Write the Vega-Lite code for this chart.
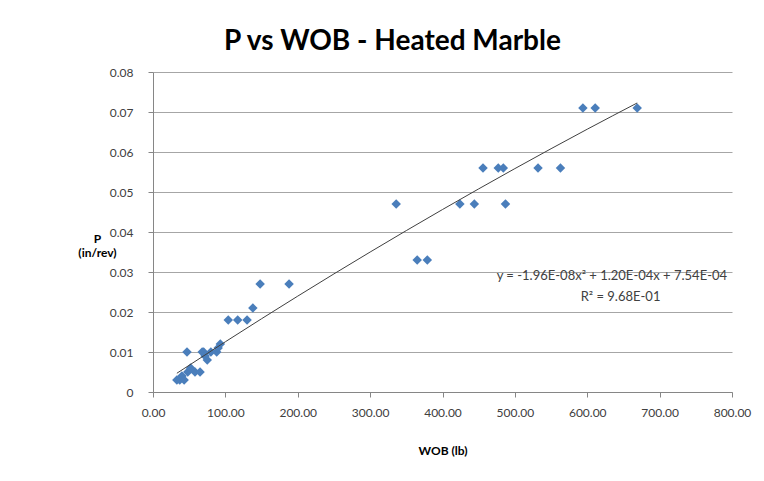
{
  "$schema": "https://vega.github.io/schema/vega-lite/v6.json",
  "width": 579,
  "height": 320,
  "autosize": {"type": "none"},
  "padding": {"left": 153, "top": 72, "right": 32, "bottom": 89},
  "background": "white",
  "config": {"view": {"stroke": null}, "font": "Lato"},
  "title": {"text": "P vs WOB - Heated Marble", "fontSize": 28, "font": "Lato", "fontWeight": "bold", "color": "#000000", "anchor": "middle", "dx": -50, "offset": 10},
  "datasets": {
    "points": [
      {"WOB": 33, "P": 0.003}, {"WOB": 37, "P": 0.003}, {"WOB": 40, "P": 0.004}, {"WOB": 43, "P": 0.003},
      {"WOB": 47, "P": 0.010}, {"WOB": 48, "P": 0.005}, {"WOB": 52, "P": 0.006}, {"WOB": 58, "P": 0.005},
      {"WOB": 65, "P": 0.005}, {"WOB": 68, "P": 0.010}, {"WOB": 72, "P": 0.009}, {"WOB": 75, "P": 0.008},
      {"WOB": 70, "P": 0.010}, {"WOB": 80, "P": 0.010}, {"WOB": 88, "P": 0.010}, {"WOB": 93, "P": 0.012},
      {"WOB": 90, "P": 0.011},
      {"WOB": 104, "P": 0.018}, {"WOB": 117, "P": 0.018}, {"WOB": 130, "P": 0.018},
      {"WOB": 138, "P": 0.021},
      {"WOB": 148, "P": 0.027}, {"WOB": 188, "P": 0.027},
      {"WOB": 336, "P": 0.047},
      {"WOB": 365, "P": 0.033}, {"WOB": 379, "P": 0.033},
      {"WOB": 424, "P": 0.047}, {"WOB": 444, "P": 0.047}, {"WOB": 487, "P": 0.047},
      {"WOB": 456, "P": 0.056}, {"WOB": 477, "P": 0.056}, {"WOB": 484, "P": 0.056}, {"WOB": 532, "P": 0.056}, {"WOB": 563, "P": 0.056},
      {"WOB": 594, "P": 0.071}, {"WOB": 611, "P": 0.071}, {"WOB": 669, "P": 0.071}
    ],
    "trend": [
      {"WOB": 33, "P": 0.00469}, {"WOB": 100, "P": 0.01256}, {"WOB": 200, "P": 0.02397},
      {"WOB": 300, "P": 0.03499}, {"WOB": 400, "P": 0.04562}, {"WOB": 500, "P": 0.05585},
      {"WOB": 600, "P": 0.06570}, {"WOB": 669, "P": 0.07226}
    ],
    "labels": [
      {"WOB": 634, "P": 0.029, "label": "y = -1.96E-08x² + 1.20E-04x + 7.54E-04"},
      {"WOB": 646, "P": 0.02375, "label": "R² = 9.68E-01"}
    ]
  },
  "encoding": {
    "x": {
      "field": "WOB", "type": "quantitative",
      "scale": {"domain": [0, 800], "nice": false, "zero": true},
      "axis": {
        "title": "WOB (lb)", "titleFontSize": 12, "titleFontWeight": "bold", "titleColor": "#000000", "titlePadding": 27,
        "values": [0, 100, 200, 300, 400, 500, 600, 700, 800], "format": ".2f",
        "labelFontSize": 12, "labelColor": "#404040", "labelPadding": 10, "labelFlush": false,
        "grid": false, "domainColor": "#868686", "tickColor": "#868686", "tickSize": 5
      }
    },
    "y": {
      "field": "P", "type": "quantitative",
      "scale": {"domain": [0, 0.08], "nice": false},
      "axis": {
        "title": ["P", "(in/rev)"], "titleFontSize": 12, "titleFontWeight": "bold", "titleColor": "#000000",
        "titleAngle": 0, "titleAlign": "center", "titleBaseline": "top", "titleX": -56, "titleY": 161, "titleLineHeight": 14,
        "values": [0, 0.01, 0.02, 0.03, 0.04, 0.05, 0.06, 0.07, 0.08],
        "labelExpr": "datum.value == 0 ? '0' : format(datum.value, '.2f')",
        "labelFontSize": 12, "labelColor": "#404040", "labelPadding": 15, "labelFlush": false,
        "grid": true, "gridColor": "#a6a6a6", "gridWidth": 1,
        "domainColor": "#868686", "tickColor": "#868686", "tickSize": 5
      }
    }
  },
  "layer": [
    {
      "data": {"name": "points"},
      "mark": {"type": "point", "shape": "diamond", "filled": true, "size": 90, "color": "#4a7ebb", "opacity": 1}
    },
    {
      "data": {"name": "trend"},
      "mark": {"type": "line", "color": "#404040", "strokeWidth": 1, "interpolate": "monotone"}
    },
    {
      "data": {"name": "labels"},
      "mark": {"type": "text", "fontSize": 13, "color": "#404040", "align": "center", "baseline": "middle"},
      "encoding": {"text": {"field": "label"}}
    }
  ]
}
